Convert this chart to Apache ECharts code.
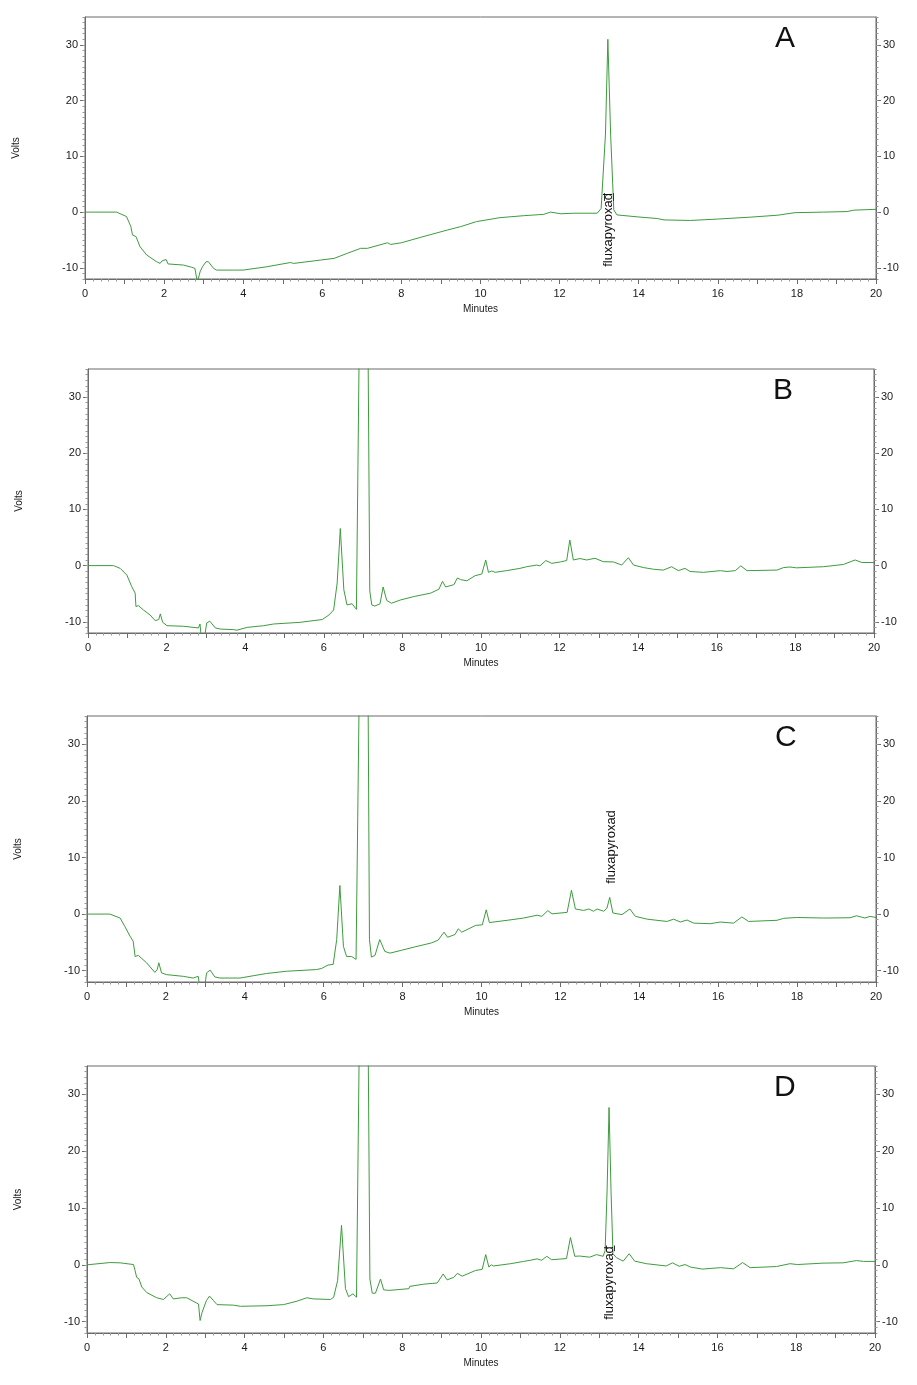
<!DOCTYPE html>
<html>
<head>
<meta charset="utf-8">
<script src="https://cdn.jsdelivr.net/npm/echarts@6/dist/echarts.min.js"></script>
<style>
  html, body { margin: 0; padding: 0; background: #fff; }
  #chart { width: 917px; height: 1385px; }
</style>
</head>
<body>
<div id="chart"></div>
<script>
  // chromatogram traces, [minutes, volts]
  var traceA = [
    [0,0],[0.8,0],[1.05,-0.8],[1.16,-2.6],[1.2,-4.1],[1.29,-4.4],[1.39,-6.2],[1.56,-7.7],
    [1.81,-8.9],[1.9,-9.2],[1.95,-8.75],[2.0,-9.1],[2.05,-8.5],[2.1,-9.3],[2.49,-9.5],
    [2.7,-9.9],[2.78,-10.1],[2.84,-12.6],[2.91,-10.7],[2.97,-9.8],[3.06,-8.9],[3.12,-8.9],
    [3.25,-10.1],[3.33,-10.4],[3.76,-10.4],[4.0,-10.4],[4.6,-9.8],[5.19,-9.05],[5.28,-9.2],
    [5.96,-8.6],[6.3,-8.3],[6.63,-7.4],[6.97,-6.5],[7.14,-6.5],[7.65,-5.5],[7.73,-5.8],
    [8.0,-5.5],[8.5,-4.5],[9.17,-3.2],[9.5,-2.6],[9.9,-1.7],[10.49,-1.0],[11.08,-0.65],
    [11.6,-0.4],[11.77,0],[12.03,-0.3],[12.36,-0.2],[12.95,-0.2],[13.05,0.65],[13.16,14],
    [13.22,31],[13.29,14],[13.37,0.4],[13.45,-0.5],[13.96,-0.85],[14.47,-1.15],[14.64,-1.4],
    [15.31,-1.5],[15.99,-1.25],[16.84,-0.9],[17.52,-0.55],[17.95,-0.1],[18.68,0],[19.27,0.1],
    [19.44,0.35],[20,0.5]
  ];
  var traceB = [
    [0,0],[0.65,0],[0.82,-0.5],[0.99,-1.7],[1.11,-3.7],[1.2,-4.9],[1.22,-7.3],[1.28,-7.1],
    [1.41,-7.9],[1.58,-8.8],[1.71,-9.8],[1.8,-9.6],[1.84,-8.6],[1.9,-10.1],[2.01,-10.7],
    [2.43,-10.8],[2.81,-11.1],[2.85,-10.4],[2.88,-12.6],[2.97,-12.6],[3.02,-10.2],[3.1,-9.9],
    [3.24,-11.1],[3.37,-11.3],[3.7,-11.4],[3.79,-11.5],[4.05,-11.0],[4.47,-10.7],[4.72,-10.4],
    [5.4,-10.1],[5.96,-9.6],[6.13,-8.8],[6.25,-7.9],[6.34,-3.1],[6.42,6.6],[6.51,-4.3],
    [6.59,-7.0],[6.72,-6.8],[6.83,-7.8],[6.87,-7.6],[6.91,45],[7.02,150],[7.12,45],
    [7.17,-4.5],[7.22,-7.0],[7.3,-7.2],[7.43,-6.8],[7.51,-3.8],[7.6,-6.2],[7.72,-6.7],
    [7.96,-6.1],[8.3,-5.5],[8.72,-4.9],[8.93,-4.2],[9.02,-2.8],[9.1,-3.8],[9.31,-3.4],
    [9.4,-2.2],[9.48,-2.5],[9.64,-2.7],[9.85,-1.8],[10.02,-1.5],[10.12,1.0],[10.19,-1.2],
    [10.27,-0.95],[10.36,-1.2],[10.65,-0.9],[10.99,-0.5],[11.16,-0.2],[11.42,0.1],[11.5,-0.05],
    [11.65,0.9],[11.8,0.4],[12.02,0.65],[12.18,0.9],[12.26,4.55],[12.35,1.0],[12.52,1.25],
    [12.69,1.0],[12.9,1.3],[13.11,0.7],[13.37,0.65],[13.58,0.1],[13.75,1.4],[13.88,0.1],
    [14.13,-0.35],[14.39,-0.65],[14.64,-0.8],[14.85,-0.2],[15.02,-0.9],[15.19,-0.5],
    [15.32,-1.05],[15.66,-1.2],[16.09,-0.9],[16.26,-1.05],[16.47,-0.9],[16.61,-0.05],
    [16.77,-0.9],[17.53,-0.8],[17.7,-0.35],[17.86,-0.25],[18.03,-0.4],[18.71,-0.2],
    [19.22,0.2],[19.52,1.0],[19.69,0.55],[20,0.55]
  ];
  var traceC = [
    [0,0],[0.58,0],[0.84,-0.7],[0.96,-2.2],[1.09,-3.9],[1.17,-4.8],[1.22,-7.5],[1.3,-7.3],
    [1.51,-8.6],[1.72,-10.3],[1.78,-9.8],[1.82,-8.6],[1.89,-10.4],[2.02,-10.7],[2.44,-11.0],
    [2.69,-11.3],[2.82,-11.0],[2.85,-12.6],[2.99,-12.6],[3.03,-10.4],[3.12,-9.9],[3.24,-11.1],
    [3.37,-11.3],[3.88,-11.3],[4.21,-10.9],[4.55,-10.5],[5.06,-10.1],[5.82,-9.8],[5.95,-9.6],
    [6.11,-9.0],[6.24,-8.9],[6.33,-4.5],[6.41,5.05],[6.5,-5.7],[6.58,-7.5],[6.71,-7.5],
    [6.82,-8.0],[6.86,-7.8],[6.91,45],[7.02,150],[7.12,45],[7.16,-4.5],[7.21,-7.6],
    [7.3,-7.3],[7.42,-4.5],[7.55,-6.6],[7.68,-6.9],[7.97,-6.4],[8.31,-5.8],[8.73,-5.1],
    [8.9,-4.6],[9.05,-3.2],[9.14,-4.1],[9.33,-3.6],[9.41,-2.6],[9.5,-3.2],[9.85,-2.0],
    [10.02,-1.9],[10.12,0.75],[10.2,-1.5],[10.65,-1.1],[11.07,-0.7],[11.41,-0.2],[11.53,-0.4],
    [11.68,0.6],[11.79,0.05],[12.17,0.3],[12.28,4.2],[12.38,0.9],[12.59,0.65],[12.72,0.9],
    [12.84,0.5],[12.93,0.9],[13.1,0.5],[13.18,1.05],[13.25,2.95],[13.33,0.2],[13.56,-0.1],
    [13.76,0.9],[13.9,-0.4],[14.2,-0.9],[14.7,-1.3],[14.87,-0.9],[15.04,-1.4],[15.21,-1.05],
    [15.38,-1.6],[15.8,-1.7],[16.05,-1.4],[16.39,-1.6],[16.6,-0.5],[16.77,-1.3],[17.49,-1.1],
    [17.66,-0.75],[17.99,-0.6],[18.67,-0.7],[19.34,-0.65],[19.51,-0.3],[19.72,-0.7],
    [19.85,-0.4],[20,-0.6]
  ];
  var traceD = [
    [0,0],[0.58,0.4],[0.84,0.35],[1.18,0.05],[1.22,-1.0],[1.26,-2.2],[1.32,-2.5],[1.39,-3.9],
    [1.52,-4.9],[1.77,-5.8],[1.94,-6.1],[2.1,-5.1],[2.19,-6.0],[2.4,-5.8],[2.53,-5.8],
    [2.83,-6.9],[2.87,-9.8],[2.92,-8.4],[2.97,-8.3],[3.03,-6.3],[3.11,-5.5],[3.21,-6.3],
    [3.3,-7.0],[3.72,-7.1],[3.89,-7.3],[4.57,-7.2],[4.99,-7.0],[5.33,-6.4],[5.58,-5.8],
    [5.75,-6.0],[6.18,-6.1],[6.26,-5.7],[6.36,-2.8],[6.46,6.95],[6.56,-4.2],[6.64,-5.6],
    [6.75,-5.1],[6.84,-5.7],[6.87,-5.5],[6.92,45],[7.03,150],[7.13,45],[7.18,-2.5],
    [7.24,-5.0],[7.32,-5.0],[7.45,-2.5],[7.53,-4.4],[7.66,-4.5],[8.17,-4.2],[8.19,-3.8],
    [8.55,-3.4],[8.89,-3.2],[9.04,-1.6],[9.14,-2.65],[9.31,-2.2],[9.4,-1.5],[9.52,-2.0],
    [9.86,-1.0],[10.03,-0.8],[10.12,1.8],[10.2,-0.4],[10.26,0],[10.32,-0.2],[10.75,0.2],
    [11.08,0.6],[11.25,0.8],[11.42,1.05],[11.54,0.8],[11.67,1.5],[11.79,0.9],[12.17,1.1],
    [12.27,4.8],[12.38,1.5],[12.5,1.55],[12.76,1.35],[12.93,1.8],[13.1,1.5],[13.15,2.5],
    [13.2,13],[13.25,27.7],[13.3,13],[13.35,1.95],[13.44,1.25],[13.61,0.65],[13.76,1.95],
    [13.9,0.65],[14.2,0.2],[14.7,-0.2],[14.86,0.35],[15.03,-0.25],[15.18,0.05],[15.32,-0.4],
    [15.62,-0.75],[16.08,-0.5],[16.41,-0.7],[16.64,0.4],[16.83,-0.5],[17.5,-0.3],[17.84,0.2],
    [18.03,0.05],[18.68,0.3],[19.19,0.35],[19.53,0.75],[19.71,0.6],[20,0.6]
  ];

  var panelNames = ['A', 'B', 'C', 'D'];
  var yLabelValues = [-10, 0, 10, 20, 30];
  // where the fluxapyroxad label sits in each panel (null = none)
  var peakLabelAt = [[13.23, -3.2], null, [13.3, 11.85], [13.27, -3.2]];
  // peak start / end markers drawn by the integrator: [minutes, fromVolts, toVolts]
  var peakMarksA = [[13.12, 3.4, 2.0], [13.35, 3.4, 2.0]];
  var peakMarksD = [[13.18, 3.4, 2.4], [13.37, 3.4, 2.4]];
  var peakMarks = [peakMarksA, null, null, peakMarksD];

  var traces = [traceA, traceB, traceC, traceD];
  var gridBoxes = [
    {left: 85, top: 17, width: 791, height: 262},
    {left: 88, top: 369, width: 786, height: 264},
    {left: 87, top: 716, width: 789, height: 266},
    {left: 87, top: 1066, width: 788, height: 267}
  ];

  var axisColor = '#6b6b6b';
  var textColor = '#1a1a1a';
  var fontFam = 'Liberation Sans, Arial, sans-serif';

  var grids = [], xAxes = [], yAxes = [], series = [], titles = [];

  gridBoxes.forEach(function (box, i) {
    grids.push(Object.assign({
      show: true, borderColor: axisColor, borderWidth: 1, backgroundColor: 'transparent'
    }, box));

    xAxes.push({
      type: 'value', gridIndex: i, min: 0, max: 20, interval: 1,
      name: 'Minutes', nameLocation: 'middle', nameGap: 25,
      nameTextStyle: {fontSize: 10, color: textColor, fontFamily: fontFam},
      axisLine: {show: true, onZero: false, lineStyle: {color: axisColor}},
      axisTick: {show: true, length: 5, lineStyle: {color: axisColor}},
      minorTick: {show: true, splitNumber: 5, length: 2.5, lineStyle: {color: '#999'}},
      splitLine: {show: false},
      axisLabel: {
        fontSize: 11, color: textColor, fontFamily: fontFam, margin: 9,
        formatter: function (v) { return v % 2 === 0 ? String(v) : ''; }
      }
    });

    ['left', 'right'].forEach(function (pos) {
      // major ticks + labels
      yAxes.push({
        type: 'value', gridIndex: i, position: pos, min: -12, max: 35,
        name: pos === 'left' ? 'Volts' : '', nameLocation: 'middle', nameGap: 64,
        nameTextStyle: {fontSize: 10, color: textColor, fontFamily: fontFam},
        axisLine: {show: true, onZero: false, lineStyle: {color: axisColor}},
        axisTick: {show: true, length: 5, customValues: yLabelValues, lineStyle: {color: axisColor}},
        axisLabel: {
          show: true, customValues: yLabelValues, fontSize: 11, color: textColor,
          fontFamily: fontFam, margin: 7
        },
        splitLine: {show: false}
      });
      // unit ticks
      yAxes.push({
        type: 'value', gridIndex: i, position: pos, min: -12, max: 35, interval: 1,
        axisLine: {show: false, onZero: false},
        axisTick: {show: true, length: 2.5, lineStyle: {color: '#999'}},
        axisLabel: {show: false},
        splitLine: {show: false}
      });
    });

    var s = {
      type: 'line', xAxisIndex: i, yAxisIndex: i * 4, data: traces[i],
      showSymbol: false, symbol: 'none', clip: true, animation: false,
      lineStyle: {color: '#3e9b3e', width: 1}
    };
    if (peakLabelAt[i]) {
      s.markPoint = {
        symbol: 'circle', symbolSize: 0, animation: false,
        data: [{coord: peakLabelAt[i]}],
        label: {
          show: true, position: 'inside', formatter: 'fluxapyroxad', rotate: 90,
          fontSize: 13, color: '#111', fontFamily: fontFam
        }
      };
    }
    if (peakMarks[i]) {
      s.markLine = {
        symbol: 'none', silent: true, animation: false,
        label: {show: false},
        lineStyle: {color: '#333', width: 1, type: 'solid'},
        data: peakMarks[i].map(function (m) {
          return [{coord: [m[0], m[1]]}, {coord: [m[0], m[2]]}];
        })
      };
    }
    series.push(s);

    titles.push({
      text: panelNames[i], left: box.left + box.width - 106, top: box.top + 2,
      textStyle: {fontSize: 30, fontWeight: 'normal', color: '#111', fontFamily: fontFam}
    });
  });

  var myChart = echarts.init(document.getElementById('chart'));
  myChart.setOption({
    animation: false,
    title: titles,
    grid: grids,
    xAxis: xAxes,
    yAxis: yAxes,
    series: series
  });
</script>
</body>
</html>
